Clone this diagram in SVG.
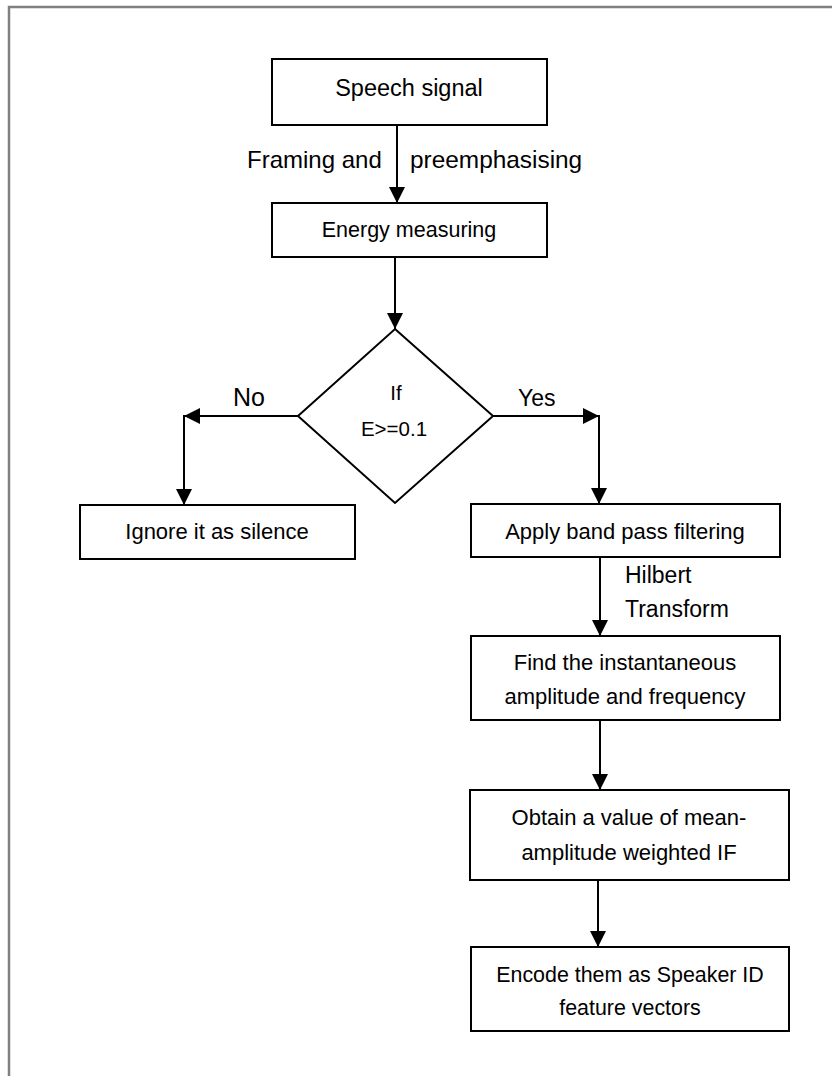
<svg xmlns="http://www.w3.org/2000/svg" width="832" height="1076" viewBox="0 0 832 1076">
<style>
.box{fill:#fff;stroke:#000;stroke-width:2}
.t{font-family:"Liberation Sans",Arial,sans-serif;font-size:22px;fill:#000;text-anchor:middle}
.lbl{font-family:"Liberation Sans",Arial,sans-serif;font-size:23px;fill:#000}
.c{fill:none;stroke:#000;stroke-width:2}
</style>
<defs>
<marker id="ah" markerUnits="userSpaceOnUse" markerWidth="16" markerHeight="16" refX="16" refY="8" orient="auto">
<path d="M0,0 L16,8 L0,16 z" fill="#000"/>
</marker>
</defs>
<rect width="832" height="1076" fill="#fff"/>
<path d="M9,1076 L9,7 L832,7" fill="none" stroke="#808080" stroke-width="2.5"/>

<g id="connectors">
<line class="c" x1="397" y1="125" x2="397" y2="203" marker-end="url(#ah)"/>
<line class="c" x1="395" y1="257" x2="395" y2="329" marker-end="url(#ah)"/>
<line class="c" x1="298" y1="416" x2="184" y2="416" marker-end="url(#ah)"/>
<line class="c" x1="184" y1="415" x2="184" y2="505" marker-end="url(#ah)"/>
<line class="c" x1="493" y1="416" x2="599" y2="416" marker-end="url(#ah)"/>
<line class="c" x1="599" y1="415" x2="599" y2="504" marker-end="url(#ah)"/>
<line class="c" x1="600" y1="557" x2="600" y2="636" marker-end="url(#ah)"/>
<line class="c" x1="600" y1="720" x2="600" y2="790" marker-end="url(#ah)"/>
<line class="c" x1="598" y1="880" x2="598" y2="947" marker-end="url(#ah)"/>
<text class="lbl" x="247" y="168" style="font-size:24px">Framing and</text>
<text class="lbl" x="410" y="168" style="font-size:24.4px">preemphasising</text>
<text class="lbl" x="233" y="406" style="font-size:25px">No</text>
<text class="lbl" x="518" y="406">Yes</text>
<text class="lbl" x="625" y="583">Hilbert</text>
<text class="lbl" x="625" y="617">Transform</text>
</g>

<g id="speech">
<rect class="box" x="272" y="59" width="275" height="66"/>
<text class="t" x="409" y="96" style="font-size:23.5px">Speech signal</text>
</g>
<g id="energy">
<rect class="box" x="272" y="203" width="275" height="54"/>
<text class="t" x="409" y="237" style="font-size:21.5px">Energy measuring</text>
</g>
<g id="decision">
<polygon class="box" points="395,329 493,416 395,503 298,416"/>
<text class="t" x="396" y="400" style="font-size:20.5px">If</text>
<text class="t" x="394" y="436" style="font-size:20.5px">E&gt;=0.1</text>
</g>
<g id="ignore">
<rect class="box" x="80" y="505" width="275" height="54"/>
<text class="t" x="217" y="539">Ignore it as silence</text>
</g>
<g id="bandpass">
<rect class="box" x="471" y="504" width="309" height="53"/>
<text class="t" x="625" y="539">Apply band pass filtering</text>
</g>
<g id="instant">
<rect class="box" x="471" y="636" width="309" height="84"/>
<text class="t" x="625" y="670">Find the instantaneous</text>
<text class="t" x="625" y="704">amplitude and frequency</text>
</g>
<g id="meanamp">
<rect class="box" x="470" y="790" width="319" height="90"/>
<text class="t" x="629" y="825">Obtain a value of mean-</text>
<text class="t" x="629" y="860">amplitude weighted IF</text>
</g>
<g id="encode">
<rect class="box" x="471" y="947" width="318" height="84"/>
<text class="t" x="630" y="982" style="font-size:21.4px">Encode them as Speaker ID</text>
<text class="t" x="630" y="1015" style="font-size:21.4px">feature vectors</text>
</g>
</svg>
